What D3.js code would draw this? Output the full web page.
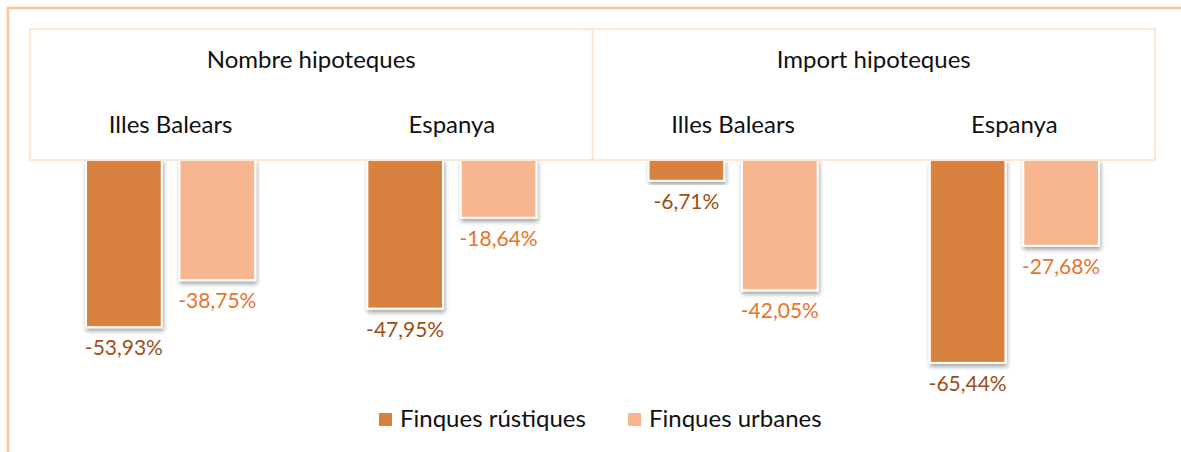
<!DOCTYPE html>
<html>
<head>
<meta charset="utf-8">
<script src="https://cdn.jsdelivr.net/npm/d3@7"></script>
<style>
  html, body { margin: 0; padding: 0; background: #fff; }
  svg { display: block; font-family: Lato, "Open Sans", sans-serif; }
</style>
</head>
<body>
<div id="chart"></div>
<script>
// Data
const measures = ["Nombre hipoteques", "Import hipoteques"];
const regions = ["Illes Balears", "Espanya"];
const series = ["Finques rústiques", "Finques urbanes"];
const rustiques = [-53.93, -47.95, -6.71, -65.44];
const urbanes = [-38.75, -18.64, -42.05, -27.68];

const width = 1181;
const height = 452;

const colors = ["#d9823f", "#f7b590"];
const labelColors = ["#9c4f14", "#e8742a"];

const svg = d3.select("#chart")
  .append("svg")
  .attr("width", width)
  .attr("height", height);

// drop shadow for bars
const defs = svg.append("defs");
const filter = defs.append("filter")
  .attr("id", "shadow")
  .attr("x", "-20%").attr("y", "-20%")
  .attr("width", "140%").attr("height", "140%");
filter.append("feDropShadow")
  .attr("dx", 1).attr("dy", 3)
  .attr("stdDeviation", 2)
  .attr("flood-color", "#000")
  .attr("flood-opacity", 0.35);

// outer chart border (left + top visible)
svg.append("path")
  .attr("d", `M8,${height} L8,8 L${width},8`)
  .attr("fill", "none")
  .attr("stroke", "#fbc497")
  .attr("stroke-width", 2.5);

// Scales
const left = 30, right = 1155, zeroY = 160;
const categories = [];
measures.forEach(m => regions.forEach(r => categories.push(m + "|" + r)));

const x0 = d3.scaleBand()
  .domain(categories)
  .range([left, right]);

const xM = d3.scaleBand()
  .domain(measures)
  .range([left, right]);

const x1 = d3.scaleBand()
  .domain(series)
  .range([0, x0.bandwidth()])
  .paddingInner(0.19)
  .paddingOuter(0.6);

const y = d3.scaleLinear()
  .domain([0, -70])
  .range([zeroY, zeroY + 70 * 3.1]);

const rows = categories.map((c, i) => ({ cat: c, values: [rustiques[i], urbanes[i]] }));

const fmt = v => (v < 0 ? "-" : "") + d3.format(".2f")(Math.abs(v)).replace(".", ",") + "%";

// Bars
const groups = svg.selectAll(".group")
  .data(rows)
  .enter()
  .append("g")
  .attr("class", "group")
  .attr("transform", d => `translate(${x0(d.cat)},0)`);

groups.selectAll("rect")
  .data(d => d.values.map((v, j) => ({ s: series[j], v: v, j: j })))
  .enter()
  .append("rect")
  .attr("x", d => x1(d.s))
  .attr("y", y(0))
  .attr("width", x1.bandwidth())
  .attr("height", d => y(d.v) - y(0))
  .attr("fill", d => colors[d.j])
  .attr("stroke", "#fff")
  .attr("stroke-width", 2)
  .attr("filter", "url(#shadow)");

groups.selectAll("text.val")
  .data(d => d.values.map((v, j) => ({ s: series[j], v: v, j: j })))
  .enter()
  .append("text")
  .attr("class", "val")
  .attr("x", d => x1(d.s) + x1.bandwidth() / 2)
  .attr("y", d => y(d.v) + 28)
  .attr("text-anchor", "middle")
  .attr("font-size", 21)
  .attr("fill", d => labelColors[d.j])
  .text(d => fmt(d.v));

// Category header table
const boxTop = 29;
svg.append("rect")
  .attr("x", left)
  .attr("y", boxTop)
  .attr("width", right - left)
  .attr("height", zeroY - boxTop)
  .attr("fill", "#fff")
  .attr("stroke", "#fde1cb")
  .attr("stroke-width", 1.5);

svg.append("line")
  .attr("x1", xM(measures[1])).attr("x2", xM(measures[1]))
  .attr("y1", boxTop).attr("y2", zeroY)
  .attr("stroke", "#fde1cb")
  .attr("stroke-width", 1.5);

svg.selectAll(".mlabel")
  .data(measures)
  .enter()
  .append("text")
  .attr("class", "mlabel")
  .attr("x", d => xM(d) + xM.bandwidth() / 2)
  .attr("y", 68)
  .attr("text-anchor", "middle")
  .attr("font-size", 24)
  .attr("fill", "#111")
  .text(d => d);

svg.selectAll(".rlabel")
  .data(categories)
  .enter()
  .append("text")
  .attr("class", "rlabel")
  .attr("x", d => x0(d) + x0.bandwidth() / 2)
  .attr("y", 133)
  .attr("text-anchor", "middle")
  .attr("font-size", 24)
  .attr("fill", "#111")
  .text(d => d.split("|")[1]);

// Legend
const legendX = [379, 628];
const legend = svg.selectAll(".legend")
  .data(series)
  .enter()
  .append("g")
  .attr("class", "legend")
  .attr("transform", (d, i) => `translate(${legendX[i]},413)`);

legend.append("rect")
  .attr("width", 13)
  .attr("height", 13)
  .attr("fill", (d, i) => colors[i]);

legend.append("text")
  .attr("x", 21)
  .attr("y", 14)
  .attr("font-size", 24)
  .attr("fill", "#111")
  .text(d => d);
</script>
</body>
</html>
